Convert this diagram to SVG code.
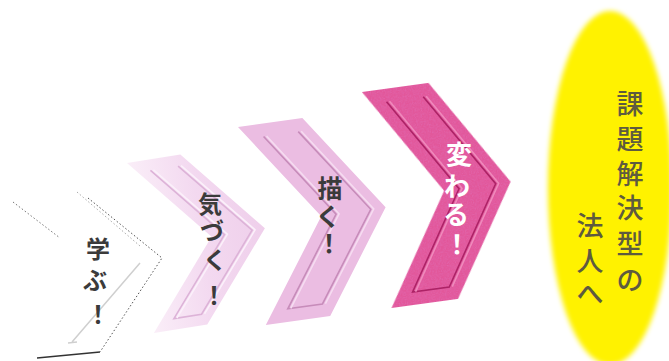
<svg xmlns="http://www.w3.org/2000/svg" width="669" height="361" viewBox="0 0 669 361">
<defs>
<style>
.t{font-family:"Noto Sans CJK JP","Noto Sans CJK SC",sans-serif;text-anchor:middle;dominant-baseline:central;font-weight:700}
.dk{fill:#3b3b3b}
.wt{fill:#ffffff}
.y{font-family:"Noto Sans CJK JP","Noto Sans CJK SC",sans-serif;font-size:27px;fill:#5e5b3f;text-anchor:middle;dominant-baseline:central;font-weight:500}
.dot{fill:none;stroke:#555;stroke-width:1;stroke-dasharray:1.5 2.2}
.in{fill:none;stroke-width:1.6;stroke-linejoin:miter}
</style>
<filter id="soft" x="-20%" y="-20%" width="140%" height="140%"><feGaussianBlur stdDeviation="2.5"/></filter>
<filter id="grain" x="0" y="0" width="100%" height="100%">
<feTurbulence type="fractalNoise" baseFrequency="0.85" numOctaves="2" seed="4" result="n"/>
<feColorMatrix in="n" type="matrix" values="0 0 0 0 0.75  0 0 0 0 0.15  0 0 0 0 0.45  0 0 0 1.6 -0.6" result="c"/>
<feComposite in="c" in2="SourceGraphic" operator="in" result="cc"/>
<feMerge><feMergeNode in="SourceGraphic"/><feMergeNode in="cc"/></feMerge>
</filter>
<linearGradient id="g2" gradientUnits="userSpaceOnUse" x1="0" y1="0" x2="126" y2="0">
<stop offset="0" stop-color="#faeef8"/><stop offset="0.5" stop-color="#f3d9f0"/><stop offset="1" stop-color="#efcfeb"/>
</linearGradient>
</defs>
<rect width="669" height="361" fill="#ffffff"/>

<g id="step1">
<path d="M88,198 L162,258 L100,352" class="dot"/>
<path d="M13,202 L60,238" class="dot" style="stroke:#777"/>
<path d="M77,192 L140,246" class="dot" style="stroke:#aaa"/>
<path d="M37,358 L100,352" fill="none" stroke="#333" stroke-width="1.5"/>
<path d="M68,343 L77,342 M72,342 L140,263" fill="none" stroke="#cfcfcf" stroke-width="1.5"/>
<text class="t dk" x="98" y="247" font-size="24">学</text>
<text class="t dk" x="95" y="278" font-size="24">ぶ</text>
<text class="t dk" x="98" y="312" font-size="24">！</text>
</g>

<g id="step2">
<g transform="translate(127,163) rotate(-9)">
<polygon points="0,0 54,0 126,86 54,172 0,172 72,86" fill="url(#g2)"/>
<path d="M22,11 L85,86 L22,161 L50,161 L113,86 L50,11" class="in" stroke="#ddb3d8"/>
<path d="M25,11 L88,86 L25,161 M53,161 L116,86 L53,11" class="in" stroke="#fbf0fa" stroke-width="1.2"/>
</g>
<text class="t dk" x="210" y="202" font-size="24">気</text>
<text class="t dk" x="212" y="229" font-size="24">づ</text>
<text class="t dk" x="215" y="258" font-size="24">く</text>
<text class="t dk" x="214" y="293" font-size="24">！</text>
</g>

<g id="step3">
<g transform="translate(238,127) rotate(-8)">
<polygon points="0,0 65,0 135,100 65,200 0,200 70,100" fill="#ebbde2"/>
<path d="M24,13 L85,100 L24,187 L59,187 L120,100 L59,13" class="in" stroke="#c78cba"/>
<path d="M27,13 L88,100 L27,187 M62,187 L123,100 L62,13" class="in" stroke="#f6dcf1" stroke-width="1.2"/>
</g>
<text class="t dk" x="330" y="187" font-size="25">描</text>
<text class="t dk" x="328" y="215" font-size="25">く</text>
<text class="t dk" x="329" y="242" font-size="25">！</text>
</g>

<g id="step4">
<g transform="translate(362,92) rotate(-7.8)">
<polygon points="0,0 67,0 135,109 67,218 0,218 68,109" fill="#e2579a" filter="url(#grain)"/>
<path d="M23,13 L83,109 L23,205 L60,205 L120,109 L60,13" class="in" stroke="#ad2366"/>
<path d="M26,13 L86,109 L26,205 M63,205 L123,109 L63,13" class="in" stroke="#f08abc" stroke-width="1.2"/>
</g>
<text class="t wt" x="459" y="152" font-size="26">変</text>
<text class="t wt" x="457" y="184" font-size="26">わ</text>
<text class="t wt" x="456" y="212" font-size="26">る</text>
<text class="t wt" x="457" y="242" font-size="26">！</text>
</g>

<g id="goal">
<ellipse cx="610" cy="188" rx="62" ry="177" fill="#fff200" filter="url(#soft)"/>
<text class="y" x="630" y="102">課</text>
<text class="y" x="630" y="137">題</text>
<text class="y" x="630" y="172">解</text>
<text class="y" x="630" y="206">決</text>
<text class="y" x="630" y="242">型</text>
<text class="y" x="630" y="278">の</text>
<text class="y" x="590" y="224">法</text>
<text class="y" x="590" y="259">人</text>
<text class="y" x="590" y="292">へ</text>
</g>
<g id="connectors"/>
</svg>
